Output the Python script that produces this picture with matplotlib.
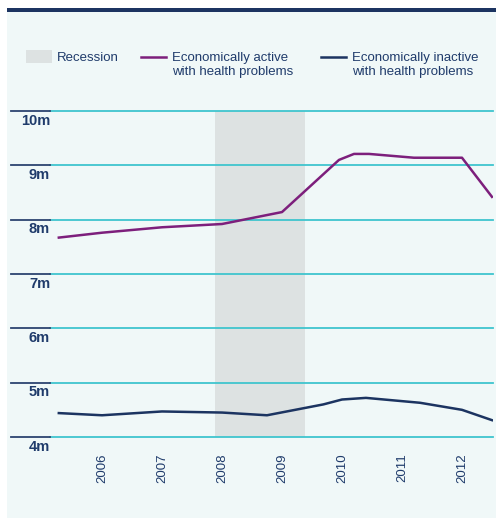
import matplotlib
matplotlib.use("Agg")
import matplotlib.pyplot as plt
from matplotlib.lines import Line2D
from matplotlib.patches import Rectangle

plt.rcParams['font.family'] = ['Liberation Sans', 'DejaVu Sans']

# Data (millions)
active_x = [2005.28, 2006.0, 2007.0, 2008.0, 2009.0, 2009.95, 2010.2, 2010.45, 2011.2, 2012.0, 2012.5]
active_y = [7.67, 7.76, 7.86, 7.92, 8.14, 9.10, 9.21, 9.21, 9.14, 9.14, 8.42]
inactive_x = [2005.28, 2006.0, 2007.0, 2008.0, 2008.75, 2009.69, 2010.0, 2010.4, 2011.3, 2012.0, 2012.5]
inactive_y = [4.44, 4.40, 4.47, 4.45, 4.40, 4.60, 4.69, 4.72, 4.63, 4.50, 4.31]
years = [2006, 2007, 2008, 2009, 2010, 2011, 2012]
recession = (2007.88, 2009.38)
yticks = [4, 5, 6, 7, 8, 9, 10]
ytick_labels = ['4m', '5m', '6m', '7m', '8m', '9m', '10m']

BG = '#F0F8F8'
NAVY = '#1C3461'
PURPLE = '#7D1F7C'
CYAN = '#3FC5CE'
GREY = '#DDE2E2'
TEXT = '#1F3B6B'

W, H = 496, 518
fig = plt.figure(figsize=(W / 100, H / 100), dpi=100)
fig.patch.set_facecolor('white')
# background panel
fig.add_artist(Rectangle((7 / W, 0), 1 - 7 / W, 1 - 10 / H, transform=fig.transFigure,
                         facecolor=BG, edgecolor='none', zorder=0))
# top dark bar
fig.add_artist(Rectangle((7 / W, 1 - 12 / H), 1 - 7 / W, 4 / H, transform=fig.transFigure,
                         facecolor=NAVY, edgecolor='none', zorder=1))

ax = fig.add_axes([50 / W, 1 - 437 / H, (493 - 50) / W, (437 - 111) / H])
ax.set_facecolor('none')
ax.set_xlim(2005.133, 2012.517)
ax.set_ylim(4, 10)
for s in ax.spines.values():
    s.set_visible(False)

ax.axvspan(recession[0], recession[1], color=GREY, zorder=1, lw=0)

ytr = ax.get_yaxis_transform()
for v, lab in zip(yticks, ytick_labels):
    ax.plot([0, 1], [v, v], transform=ytr, color=CYAN, lw=1.3, zorder=2, clip_on=False)
    ax.plot([-39 / 443, 0], [v, v], transform=ytr, color='#2C4470', lw=1.3, zorder=2, clip_on=False)
    ax.text(0, v - 0.05, lab, transform=ytr, ha='right', va='top', fontsize=10.5,
            fontweight='bold', color=TEXT)

ax.plot(active_x, active_y, color=PURPLE, lw=1.8, zorder=3)
ax.plot(inactive_x, inactive_y, color=NAVY, lw=1.8, zorder=3)

ax.set_yticks([])
ax.set_xticks(years)
ax.set_xticklabels([str(y) for y in years], rotation=90, fontsize=9.5, color=TEXT)
ax.tick_params(axis='x', length=0, pad=12)

# legend
fig.add_artist(Rectangle((26 / W, 1 - 63 / H), 26 / W, 13 / H, transform=fig.transFigure,
                         facecolor=GREY, edgecolor='none'))
fig.text(57 / W, 1 - 57.5 / H, 'Recession', ha='left', va='center', fontsize=9.5, color=TEXT)
fig.add_artist(Line2D([141 / W, 166 / W], [1 - 57 / H, 1 - 57 / H], transform=fig.transFigure,
                      color=PURPLE, lw=1.8))
fig.text(172 / W, 1 - 57.5 / H, 'Economically active', ha='left', va='center', fontsize=9.5, color=TEXT)
fig.text(172 / W, 1 - 72.5 / H, 'with health problems', ha='left', va='center', fontsize=9.5, color=TEXT)
fig.add_artist(Line2D([321 / W, 346 / W], [1 - 57 / H, 1 - 57 / H], transform=fig.transFigure,
                      color=NAVY, lw=1.8))
fig.text(352 / W, 1 - 57.5 / H, 'Economically inactive', ha='left', va='center', fontsize=9.5, color=TEXT)
fig.text(352 / W, 1 - 72.5 / H, 'with health problems', ha='left', va='center', fontsize=9.5, color=TEXT)

fig.savefig('out.png', dpi=100, facecolor=fig.get_facecolor())
